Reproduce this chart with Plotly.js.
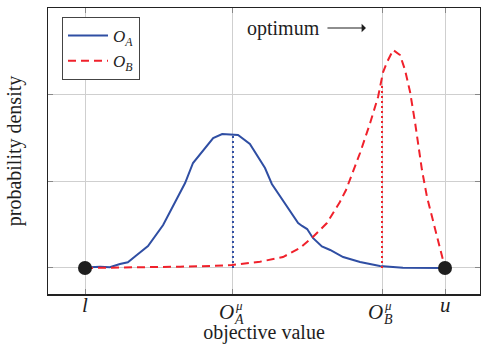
<!DOCTYPE html>
<html>
<head>
<meta charset="utf-8">
<script src="https://cdn.plot.ly/plotly-3.0.1.min.js"></script>
<style>html,body{margin:0;padding:0;background:#fff;}#chart{width:481px;height:351px;}</style>
</head>
<body>
<div id="chart"></div>
<script>
// objective value axis: l = 0, u = 1
const tickVals = [0, 0.411, 0.825, 1];
const tickMain = ["l", "O", "O", "u"];
const tickSups = ["", "μ", "μ", ""];
const tickSubs = ["", "A", "B", ""];

// O_A density (blue, solid)
const aX = [0, 0.014, 0.042, 0.069, 0.097, 0.119, 0.144, 0.175, 0.217, 0.244, 0.278, 0.300, 0.339, 0.356, 0.381, 0.411, 0.425, 0.458, 0.481, 0.500, 0.519, 0.544, 0.569, 0.592, 0.603, 0.617, 0.633, 0.658, 0.681, 0.717, 0.764, 0.819, 0.883, 0.978, 1.0];
const aY = [0, 0.008, 0.015, 0.008, 0.046, 0.066, 0.149, 0.253, 0.494, 0.701, 0.977, 1.207, 1.414, 1.494, 1.540, 1.529, 1.529, 1.425, 1.276, 1.149, 0.966, 0.816, 0.667, 0.517, 0.483, 0.448, 0.345, 0.247, 0.207, 0.126, 0.069, 0.023, 0.003, 0.0, 0.0];

// O_B density (red, dashed)
const bX = [0, 0.069, 0.181, 0.264, 0.347, 0.408, 0.486, 0.550, 0.597, 0.633, 0.672, 0.708, 0.725, 0.744, 0.764, 0.792, 0.814, 0.828, 0.839, 0.856, 0.875, 0.889, 0.903, 0.917, 0.936, 0.950, 0.972, 1.0];
const bY = [0, 0.003, 0.003, 0.015, 0.023, 0.034, 0.072, 0.126, 0.230, 0.356, 0.517, 0.759, 0.897, 1.103, 1.322, 1.667, 1.966, 2.253, 2.368, 2.506, 2.448, 2.276, 2.023, 1.667, 1.126, 0.816, 0.471, 0.0];

// means
const meanA = 0.411, meanAY = 1.53;
const meanB = 0.825, meanBY = 2.10;

// bounds
const boundX = [0, 1];
const boundY = [0, 0];

const blue = "#2f4ea3";
const red = "#f0212b";
const ink = "#1e1e1e";
const serif = "Liberation Serif, Times New Roman, serif";

const traces = [
  {x: aX, y: aY, mode: "lines", name: "<i>O</i><sub><i>A</i></sub>", line: {color: blue, width: 2}},
  {x: bX, y: bY, mode: "lines", name: "<i>O</i><sub><i>B</i></sub>", line: {color: red, width: 2, dash: "8px,5px"}},
  {x: [meanA, meanA], y: [0, meanAY], mode: "lines", showlegend: false, line: {color: blue, width: 2, dash: "2px,3px"}},
  {x: [meanB, meanB], y: [0, meanBY], mode: "lines", showlegend: false, line: {color: red, width: 2, dash: "2px,3px"}},
  {x: boundX, y: boundY, mode: "markers", showlegend: false, cliponaxis: false, marker: {color: ink, size: 14}}
];

const annotations = [
  {xref: "paper", yref: "paper", x: 0.634, y: 0.930, text: "optimum", showarrow: false, xanchor: "right", yanchor: "middle", font: {family: serif, size: 20, color: ink}},
  {xref: "paper", yref: "paper", x: 0.736, y: 0.930, ax: -40, ay: 0, text: "", showarrow: true, arrowhead: 1, arrowsize: 1.2, arrowwidth: 1.2, arrowcolor: ink}
];
// x tick labels (main glyph, superscript, subscript)
tickVals.forEach((v, i) => {
  const hasSub = tickSubs[i] !== "";
  annotations.push({xref: "x", yref: "paper", x: v, y: 0, yanchor: "middle", xanchor: "center", showarrow: false,
    xshift: hasSub ? -6.5 : 0, yshift: hasSub ? -17.5 : -11,
    text: "<i>" + tickMain[i] + "</i>", font: {family: serif, size: 21, color: ink}});
  if (tickSups[i]) {
    annotations.push({xref: "x", yref: "paper", x: v, y: 0, yanchor: "middle", xanchor: "center", showarrow: false,
      xshift: 6, yshift: -11.5, text: "<i>" + tickSups[i] + "</i>", font: {family: serif, size: 13, color: ink}});
  }
  if (hasSub) {
    annotations.push({xref: "x", yref: "paper", x: v, y: 0, yanchor: "middle", xanchor: "center", showarrow: false,
      xshift: 6, yshift: -25, text: "<i>" + tickSubs[i] + "</i>", font: {family: serif, size: 14, color: ink}});
  }
});

const layout = {
  width: 481, height: 351,
  margin: {l: 48, r: 1, t: 8, b: 57},
  paper_bgcolor: "#fff", plot_bgcolor: "#fff",
  font: {family: serif, color: ink},
  showlegend: true,
  legend: {x: 0.0324, y: 0.9685, xanchor: "left", yanchor: "top", bgcolor: "#fff", bordercolor: "#444", borderwidth: 1,
           font: {family: serif, size: 17, color: ink}, tracegroupgap: 0, itemwidth: 40},
  xaxis: {range: [-0.1028, 1.0972], tickmode: "array", tickvals: tickVals, showticklabels: false,
          showgrid: true, gridcolor: "#cfcfcf", gridwidth: 1, zeroline: false,
          showline: true, linecolor: "#222", linewidth: 1.5, mirror: "ticks", ticks: "inside", ticklen: 5, tickcolor: "#888",
          title: {text: "objective value", font: {family: serif, size: 20, color: ink}, standoff: 30}},
  yaxis: {range: [-0.299, 2.989], tickmode: "array", tickvals: [0, 1, 2], showticklabels: false,
          showgrid: true, gridcolor: "#cfcfcf", gridwidth: 1, zeroline: false,
          showline: true, linecolor: "#222", linewidth: 1.5, mirror: "ticks", ticks: "inside", ticklen: 5, tickcolor: "#888",
          title: {text: "probability density", font: {family: serif, size: 20, color: ink}, standoff: 19}},
  annotations: annotations
};

Plotly.newPlot("chart", traces, layout, {displayModeBar: false, staticPlot: true});
</script>
</body>
</html>
